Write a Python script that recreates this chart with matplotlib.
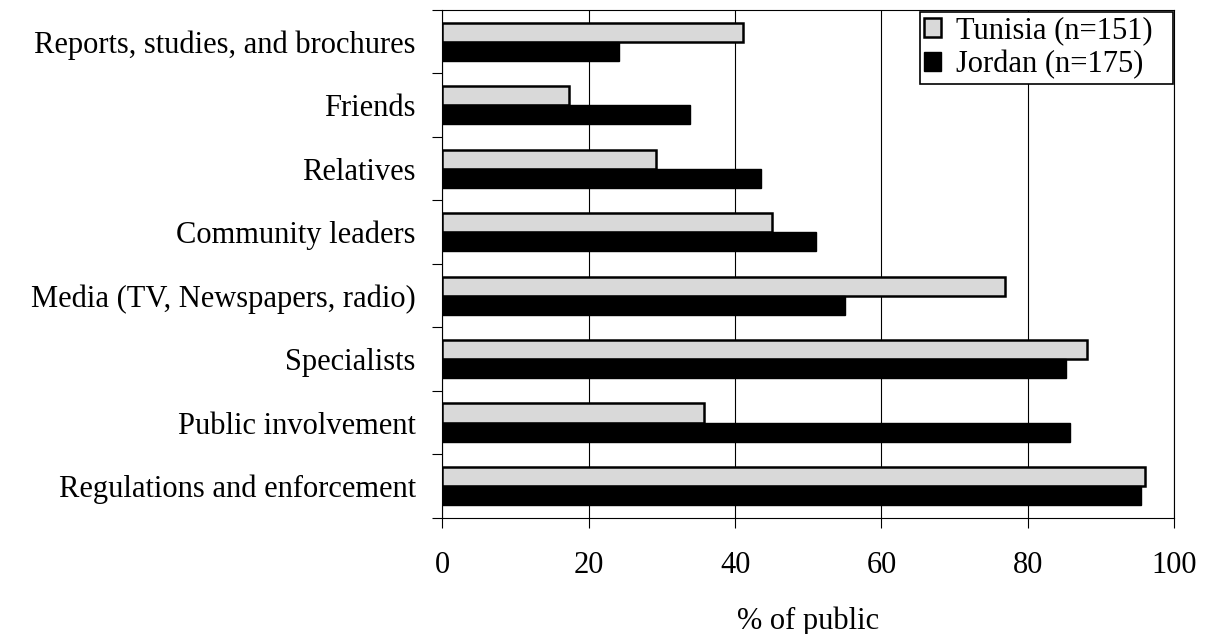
import matplotlib
matplotlib.use("Agg")
import matplotlib.pyplot as plt
import numpy as np

# Source categories (top to bottom) and % of public per country
categories = [
    "Reports, studies, and brochures",
    "Friends",
    "Relatives",
    "Community leaders",
    "Media (TV, Newspapers, radio)",
    "Specialists",
    "Public involvement",
    "Regulations and enforcement",
]
tunisia = [41.1, 17.3, 29.2, 45.1, 76.9, 88.1, 35.8, 96.0]
jordan = [24.1, 33.9, 43.6, 51.0, 55.0, 85.2, 85.8, 95.5]
series_labels = ["Tunisia (n=151)", "Jordan (n=175)"]
x_ticks = [0, 20, 40, 60, 80, 100]

plt.rcParams['font.family'] = ['Liberation Serif', 'DejaVu Serif']
FS = 22

fig = plt.figure(figsize=(12.11, 6.34), dpi=100)
ax = fig.add_axes([0.3652, 0.1834, 0.9697 - 0.3652, 0.9842 - 0.1834])

y = np.arange(len(categories))
h = 0.3
b1 = ax.barh(y - h / 2, tunisia, height=h, color='#d9d9d9', edgecolor='black',
             linewidth=1.8, zorder=3)
b2 = ax.barh(y + h / 2, jordan, height=h, color='black', edgecolor='black',
             linewidth=1.0, zorder=3)

ax.set_xlim(0, 100)
ax.set_ylim(len(categories) - 0.5, -0.5)

ax.set_xticks(x_ticks)
ax.set_xticklabels([str(t) for t in x_ticks])
ax.tick_params(axis='x', direction='out', length=7, width=0.8, pad=17, labelsize=FS)

ax.set_yticks(y)
ax.set_yticklabels(categories)
ax.set_yticks(np.arange(-0.5, len(categories)), minor=True)
ax.tick_params(axis='y', which='major', length=0, pad=19, labelsize=FS)
ax.tick_params(axis='y', which='minor', direction='out', length=7, width=0.8)

ax.grid(axis='x', color='black', linewidth=0.8, zorder=0)
ax.set_axisbelow(True)
for s in ax.spines.values():
    s.set_linewidth(0.8)

ax.set_xlabel("% of public", fontsize=FS, labelpad=19)

# trailing spaces give the right-hand margin seen in the original legend box
leg = ax.legend([b1, b2], [s + "  " for s in series_labels],
                loc='upper right', bbox_to_anchor=(1.0, 1.0), fontsize=FS,
                frameon=True, fancybox=False, edgecolor='black', framealpha=1,
                borderaxespad=0.05, handlelength=0.55, handleheight=0.55,
                handletextpad=0.5, borderpad=0.15, labelspacing=0.16)
leg.get_frame().set_linewidth(1.2)

fig.savefig("out.png", dpi=100)
